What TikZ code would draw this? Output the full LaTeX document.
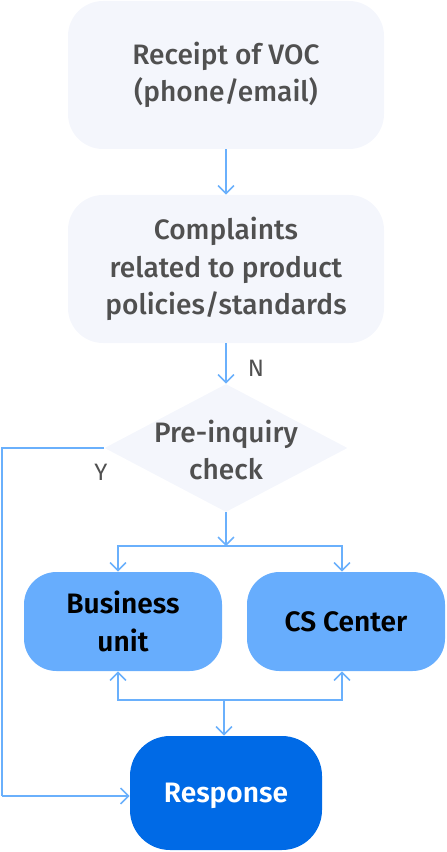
\documentclass[tikz,border=0pt]{standalone}
\usepackage{fontspec}
\setmainfont{Fira Sans}[UprightFont={* Medium},BoldFont={* SemiBold}]
\newfontfamily\ynfont{Fira Sans}
\usetikzlibrary{arrows.meta,shapes.geometric}
\definecolor{boxgray}{HTML}{F4F6FC}
\definecolor{boxblue}{HTML}{67ADFD}
\definecolor{darkblue}{HTML}{006AE6}
\definecolor{linecol}{HTML}{6AB0FC}
\definecolor{textgray}{HTML}{505050}
\begin{document}
\begin{tikzpicture}[font=\fontsize{16}{21.3}\selectfont]
%% one pixel of the drawing is 0.02cm, y grows downwards
\tikzstyle{arc}=[->,>={Straight Barb[length=4.5pt,width=9pt]},line width=0.9pt,draw=linecol]
\tikzstyle{line}=[line width=0.9pt,draw=linecol]
\tikzstyle{step box}=[rectangle,rounded corners=0.7cm,fill=boxgray,text=textgray,align=center,minimum width=6.32cm,minimum height=2.96cm]
\tikzstyle{unit box}=[rectangle,rounded corners=0.65cm,fill=boxblue,text=black,font=\fontsize{16}{21.3}\selectfont\bfseries,align=center,minimum width=3.96cm,minimum height=1.98cm]
\tikzstyle{answer box}=[rectangle,rounded corners=0.8cm,fill=darkblue,text=white,font=\fontsize{16}{21.3}\selectfont\bfseries,text depth=0pt,minimum width=3.84cm,minimum height=2.28cm]
\tikzstyle{decision}=[diamond,fill=boxgray,inner sep=0pt,minimum width=4.86cm,minimum height=2.56cm]
\tikzstyle{yn}=[text=textgray,font=\fontsize{13.5}{16}\selectfont\ynfont]
\useasboundingbox (0,0) rectangle (8.92,-17.04);
%% TikZ-figure elements %%
\node[step box] at (4.52,-1.5) (VOC) {Receipt of VOC\\(phone/email)};
\node[step box] at (4.52,-5.38) (Policy) {Complaints\\related to product\\policies/standards};
\node[decision] at (4.52,-8.96) (Check) {};
%% label for decision Check
\node[text=textgray,align=center] at (4.52,-9.0) (Check_label) {Pre-inquiry\\check};
\node[unit box] at (2.46,-12.43) (Business) {Business\\unit};
\node[unit box] at (6.92,-12.43) (CS_Center) {CS Center};
\node[answer box] at (4.52,-15.86) (Response) {Response};
%% junctions
\coordinate (Split) at (4.52,-10.92);
\coordinate (Merge) at (4.48,-14.0);
\coordinate (Y_corner) at (0.04,-15.92);
%% arcs
\draw[arc] (VOC) -- (Policy);
\draw[arc] (Policy) -- (Check);
%% Label for arc between Policy and Check
\node[yn] at (5.12,-7.36) (N_label) {N};
\draw[line] (Check.west) -| (Y_corner);
\draw[arc] (Y_corner) -- (Response.west |- Y_corner);
%% Label for arc between Check and Response
\node[yn] at (2.02,-9.44) (Y_label) {Y};
\draw[arc] (Check) -- (Split);
\draw[arc] (Split) -| ([xshift=-0.1cm]Business.north);
\draw[arc] (Split) -| ([xshift=-0.08cm]CS_Center.north);
\draw[arc] (Merge) -- (Merge |- Response.north);
\draw[arc] (Merge) -| ([xshift=-0.1cm]Business.south);
\draw[arc] (Merge) -| ([xshift=-0.08cm]CS_Center.south);
\end{tikzpicture}
\end{document}
